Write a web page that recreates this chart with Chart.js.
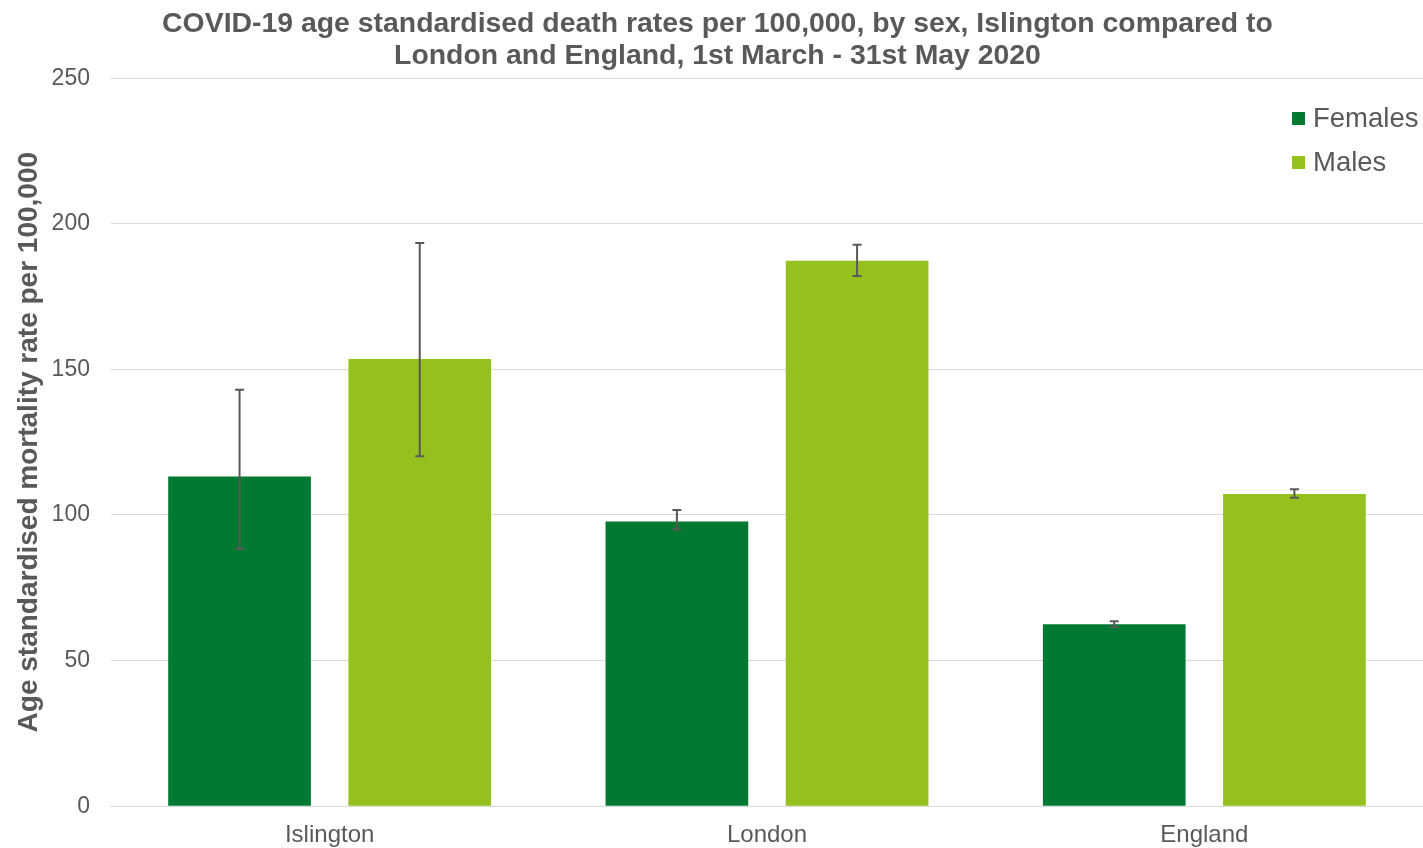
<!DOCTYPE html>
<html>
<head>
<meta charset="utf-8">
<script src="https://cdn.jsdelivr.net/npm/chart.js@4"></script>
<style>
  html, body { margin: 0; padding: 0; background: #fff; }
  #wrap { width: 1423px; height: 848px; }
</style>
</head>
<body>
<div id="wrap"><canvas id="chart"></canvas></div>
<script>
const areas = ['Islington', 'London', 'England'];
const femaleRates = [113.2, 97.8, 62.5];
const femaleLower = [88.4, 95.0, 61.5];
const femaleUpper = [143.0, 101.7, 63.5];
const maleRates = [153.6, 187.3, 107.2];
const maleLower = [120.2, 182.1, 105.9];
const maleUpper = [193.4, 192.8, 108.8];

const grey = '#595959';
const fontFam = '"Liberation Sans", Arial, sans-serif';

// draws confidence interval whiskers over each bar
const errorBars = {
    id: 'errorBars',
    afterDatasetsDraw(chart) {
        const ctx = chart.ctx;
        const y = chart.scales.y;
        ctx.save();
        ctx.strokeStyle = grey;
        ctx.lineWidth = 2;
        chart.data.datasets.forEach((ds, i) => {
            const meta = chart.getDatasetMeta(i);
            meta.data.forEach((bar, j) => {
                const top = y.getPixelForValue(ds.upper[j]);
                const bot = y.getPixelForValue(ds.lower[j]);
                const x = bar.x;
                ctx.beginPath();
                ctx.moveTo(x, top); ctx.lineTo(x, bot);
                ctx.moveTo(x - 4.5, top); ctx.lineTo(x + 4.5, top);
                ctx.moveTo(x - 4.5, bot); ctx.lineTo(x + 4.5, bot);
                ctx.stroke();
            });
        });
        ctx.restore();
    }
};

// legend sits inside the plot, top right
const cornerLegend = {
    id: 'cornerLegend',
    afterDraw(chart) {
        const ctx = chart.ctx;
        ctx.save();
        ctx.font = '27.5px ' + fontFam;
        ctx.textBaseline = 'middle';
        chart.data.datasets.forEach((ds, i) => {
            const cy = 118 + i * 44;
            ctx.fillStyle = ds.backgroundColor;
            ctx.fillRect(1292, cy - 6, 13, 13);
            ctx.fillStyle = grey;
            ctx.fillText(ds.label, 1313, cy + 1);
        });
        ctx.restore();
    }
};

new Chart(document.getElementById('chart'), {
    type: 'bar',
    data: {
        labels: areas,
        datasets: [
            {label: 'Females', data: femaleRates, lower: femaleLower, upper: femaleUpper, backgroundColor: '#007A33'},
            {label: 'Males', data: maleRates, lower: maleLower, upper: maleUpper, backgroundColor: '#95C11F'}
        ]
    },
    options: {
        responsive: true,
        maintainAspectRatio: false,
        animation: false,
        categoryPercentage: 0.824,
        barPercentage: 0.792,
        layout: {padding: {left: 12, right: 0, top: 8, bottom: 0}},
        plugins: {
            legend: {display: false},
            tooltip: {enabled: false},
            title: {
                display: true,
                text: ['COVID-19 age standardised death rates per 100,000, by sex, Islington compared to',
                       'London and England, 1st March - 31st May 2020'],
                color: grey,
                font: {family: fontFam, size: 28.4, weight: 'bold', lineHeight: 1.13},
                padding: {top: 0, bottom: 6}
            }
        },
        scales: {
            x: {
                afterFit(scale) {
                    scale.height -= 17;
                },
                grid: {display: false, drawTicks: false},
                border: {display: true, color: '#d9d9d9', width: 1},
                ticks: {color: grey, font: {family: fontFam, size: 24}, padding: 15}
            },
            y: {
                min: 0,
                max: 250,
                afterFit(scale) {
                    scale.width -= 19;
                },
                ticks: {stepSize: 50, color: grey, font: {family: fontFam, size: 23}, padding: 21},
                grid: {color: '#d9d9d9', drawTicks: false},
                border: {display: false},
                title: {
                    display: true,
                    text: 'Age standardised mortality rate per 100,000',
                    color: grey,
                    font: {family: fontFam, size: 28, weight: 'bold'},
                    padding: {top: 0, bottom: 4}
                }
            }
        }
    },
    plugins: [errorBars, cornerLegend]
});
</script>
</body>
</html>
